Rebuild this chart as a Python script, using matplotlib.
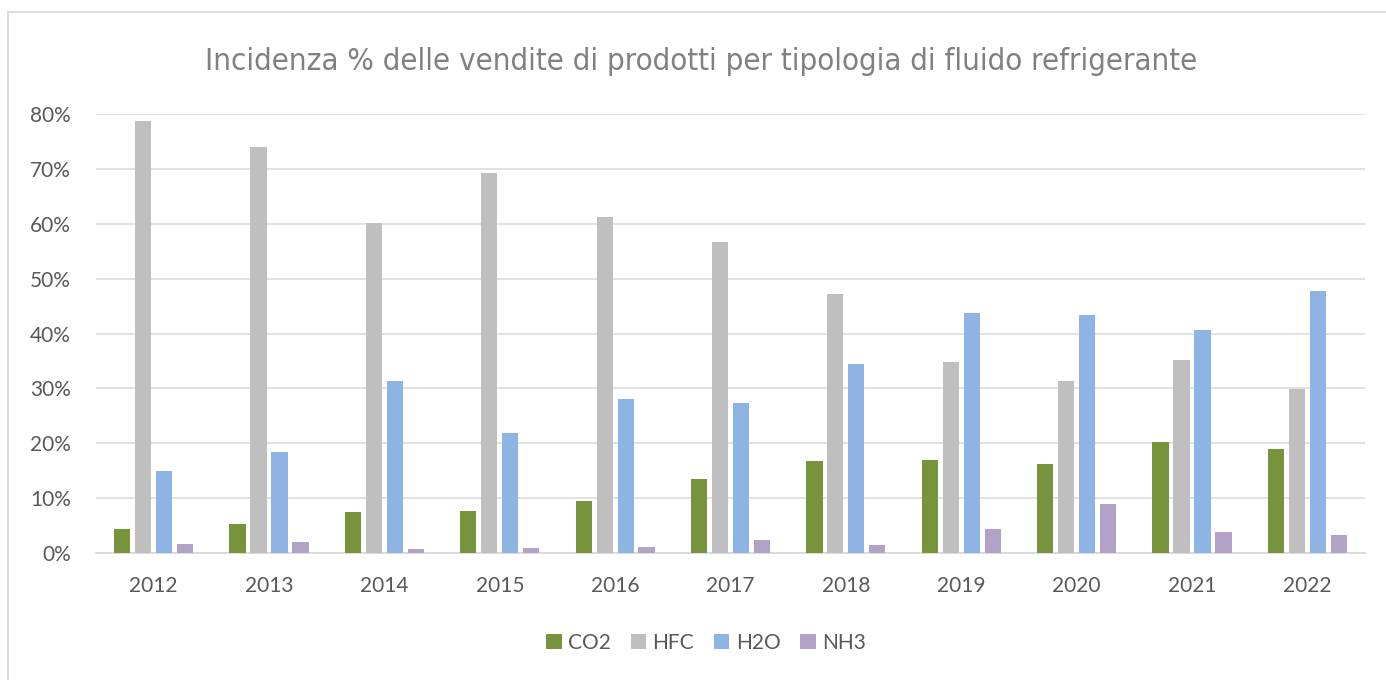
import matplotlib.pyplot as plt
import numpy as np
from matplotlib.lines import Line2D

years = ['2012', '2013', '2014', '2015', '2016', '2017', '2018', '2019', '2020', '2021', '2022']
co2 = [4.4, 5.2, 7.5, 7.6, 9.4, 13.4, 16.7, 16.9, 16.1, 20.2, 18.9]
hfc = [78.7, 74.1, 60.2, 69.3, 61.2, 56.7, 47.2, 34.8, 31.4, 35.2, 29.9]
h2o = [15.0, 18.4, 31.4, 21.9, 28.1, 27.4, 34.5, 43.8, 43.4, 40.7, 47.7]
nh3 = [1.6, 1.9, 0.7, 0.8, 1.1, 2.3, 1.4, 4.3, 8.8, 3.7, 3.3]
series = ['CO2', 'HFC', 'H2O', 'NH3']
colors = ['#77933C', '#BFBFBF', '#8EB4E3', '#B3A2C7']

W, H = 1386, 680
fig = plt.figure(figsize=(W / 100, H / 100), dpi=100)
ax = fig.add_axes([96 / W, (H - 552.7) / H, (1365 - 96) / W, (552.7 - 114.3) / H])

x = np.arange(len(years))
pitch = 0.182
for i, (vals, c) in enumerate(zip([co2, hfc, h2o, nh3], colors)):
    ax.bar(x + (i - 1.5) * pitch, vals, width=0.141, color=c, label=series[i], zorder=3)

ax.set_xlim(-0.5, len(years) - 0.5)
ax.set_ylim(0, 80)
ax.set_yticks(np.arange(0, 81, 10))
ax.set_yticklabels([f'{v}%' for v in range(0, 81, 10)])
ax.set_xticks(x)
ax.set_xticklabels(years)
ax.grid(axis='y', color='#D9D9D9', linewidth=1.1, zorder=0)
for s in ['top', 'right', 'left']:
    ax.spines[s].set_visible(False)
ax.spines['bottom'].set_color('#D9D9D9')
ax.spines['bottom'].set_linewidth(1.3)
ax.tick_params(axis='both', length=0, labelcolor='#595959', labelsize=15)
ax.tick_params(axis='y', pad=18)
ax.tick_params(axis='x', pad=17)
for lab in ax.get_xticklabels() + ax.get_yticklabels():
    lab.set_family(['Lato', 'DejaVu Sans'])

fig.text(701 / W, 1 - 70 / H, 'Incidenza % delle vendite di prodotti per tipologia di fluido refrigerante',
         ha='center', va='baseline', fontsize=22.4, color='#808080',
         family=['DejaVu Sans'], fontstretch='condensed', fontweight='light')

leg = ax.legend(loc='center', bbox_to_anchor=(706 / W, 1 - 643 / H), bbox_transform=fig.transFigure,
                ncol=4, frameon=False, handlelength=0.75, handleheight=0.75, handletextpad=0.3,
                columnspacing=0.95, prop={'family': ['Lato', 'DejaVu Sans'], 'size': 15})
for t in leg.get_texts():
    t.set_color('#595959')

# chart area border
fig.add_artist(Line2D([8 / W, 1], [1 - 12 / H, 1 - 12 / H], transform=fig.transFigure, color='#D9D9D9', lw=1.3))
fig.add_artist(Line2D([8 / W, 8 / W], [0, 1 - 12 / H], transform=fig.transFigure, color='#D9D9D9', lw=1.3))

fig.savefig('out.png', dpi=100)
